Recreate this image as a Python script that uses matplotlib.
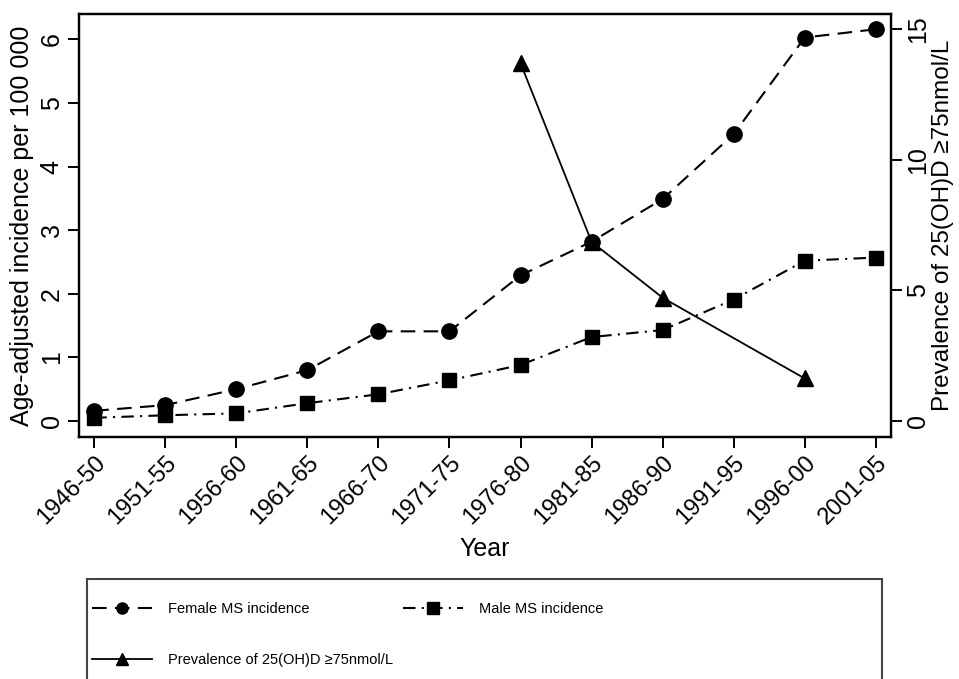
import matplotlib
matplotlib.use("Agg")
import matplotlib.pyplot as plt
from matplotlib.lines import Line2D
from matplotlib.patches import Rectangle
import numpy as np

periods = ["1946-50", "1951-55", "1956-60", "1961-65", "1966-70", "1971-75",
           "1976-80", "1981-85", "1986-90", "1991-95", "1996-00", "2001-05"]
female = [0.16, 0.25, 0.50, 0.80, 1.41, 1.41, 2.29, 2.82, 3.49, 4.51, 6.03, 6.16]
male = [0.05, 0.09, 0.12, 0.28, 0.42, 0.64, 0.88, 1.32, 1.43, 1.91, 2.52, 2.57]
vitd_periods = ["1976-80", "1981-85", "1986-90", "1996-00"]
vitd_prev = [13.7, 6.86, 4.72, 1.63]

left_ticks = [0, 1, 2, 3, 4, 5, 6]
right_ticks = [0, 5, 10, 15]

FONT = ["Liberation Sans", "DejaVu Sans"]
plt.rcParams["font.family"] = FONT

fig = plt.figure(figsize=(9.59, 6.79), dpi=100)
ax = fig.add_axes([79/959, 1 - 436.7/679, (891-79)/959, (436.7-14)/679])
ax2 = ax.twinx()

x = np.arange(len(periods))
xv = [periods.index(p) for p in vitd_periods]

fem_ls = (0, (7, 4))
male_ls = (0, (6, 3, 1, 3))
lw = 1.5

ax.plot(x, female, color="black", lw=lw, ls=fem_ls, marker="o", ms=11, zorder=3)
ax.plot(x, male, color="black", lw=lw, ls=male_ls, marker="s", ms=10.5, zorder=3)
ax2.plot(xv, vitd_prev, color="black", lw=1.3, ls="-", marker="^", ms=12, zorder=3)

ax.set_xlim(-0.215, len(periods) - 1 + 0.215)
ax.set_ylim(-0.247, 6.40)
ax2.set_ylim(-0.6, 15.58)

ax.set_xticks(x)
ax.set_xticklabels(periods, rotation=45, ha="right", va="top",
                   rotation_mode="anchor", fontsize=17)
ax.set_yticks(left_ticks)
ax.set_yticklabels([str(t) for t in left_ticks], rotation=90, va="center", fontsize=18)
ax2.set_yticks(right_ticks)
ax2.set_yticklabels([str(t) for t in right_ticks], rotation=90, va="center", fontsize=18)

for a in (ax, ax2):
    for s in a.spines.values():
        s.set_linewidth(1.6)
    a.tick_params(direction="out", length=8, width=1.4, pad=3)

ax.set_xlabel("Year", fontsize=18, labelpad=6)
ax.set_ylabel("Age-adjusted incidence per 100 000", fontsize=18, labelpad=4)
ax2.set_ylabel("Prevalence of 25(OH)D \u226575nmol/L", fontsize=17.5, labelpad=1)

# legend frame (extends below the figure edge)
rect = Rectangle((87/959, -0.05), (882-87)/959, (679-579)/679 + 0.05,
                 transform=fig.transFigure, fill=False, edgecolor="#444444",
                 lw=1.5, zorder=5)
fig.patches.append(rect)

h_f = Line2D([], [], color="black", lw=lw, ls=fem_ls, marker="o", ms=8)
h_m = Line2D([], [], color="black", lw=lw, ls=male_ls, marker="s", ms=8)
h_v = Line2D([], [], color="black", lw=1.3, ls="-", marker="^", ms=9)

LEGSIZE = 10.5
leg_kw = dict(loc="upper left", frameon=False, handlelength=4.1, handletextpad=1.1,
              labelspacing=2.55, borderpad=0, borderaxespad=0,
              prop={"family": FONT, "size": LEGSIZE})
fig.legend([h_f, h_v], ["Female MS incidence", "Prevalence of 25(OH)D \u226575nmol/L"],
           bbox_to_anchor=(92/959, 1 - 602/679), **leg_kw)
fig.legend([h_m], ["Male MS incidence"],
           bbox_to_anchor=(403/959, 1 - 602/679), **leg_kw)

fig.savefig("out.png", dpi=100)
